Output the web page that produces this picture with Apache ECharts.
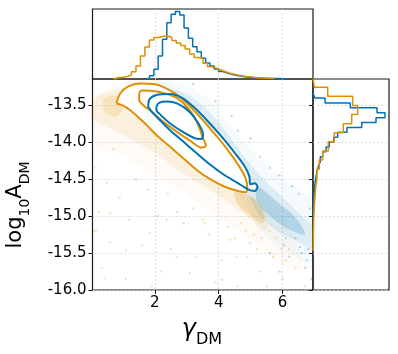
<!DOCTYPE html>
<html>
<head>
<meta charset="utf-8">
<script src="https://cdn.jsdelivr.net/npm/echarts@6/dist/echarts.min.js"></script>
<style>
  html, body { margin: 0; padding: 0; background: #fff; }
  #chart { width: 398px; height: 354px; }
</style>
</head>
<body>
<div id="chart"></div>
<script>
const BLUE = '#0173B2';
const ORANGE = '#DE8F05';
const FONT = 'DejaVu Sans';

// tick positions
const xTicks = [2, 4, 6];
const yTicks = [-16, -15.5, -15, -14.5, -14, -13.5];

// marginal histogram of gamma (top), bin start / width / heights
const gammaBlueStart = 1.70;
const gammaBlueWidth = 0.135;
const gammaBlue = [0.7, 3.3, 9.7, 23, 39.7, 56.3, 64.7, 67.5, 64, 51, 40.7, 32.3, 27.3, 20.7, 16, 13, 10, 7.5, 6, 4.8, 3.8, 3, 2.3, 1.8, 1.4, 1.1, 0.9, 0.8, 0.6, 0.5, 0.4, 0.3, 0.2];
const gammaOrangeStart = 0.71;
const gammaOrangeWidth = 0.14;
const gammaOrange = [1.3, 1.8, 2.5, 4, 7.3, 13, 23, 32, 39, 41.5, 42.5, 43.3, 41.5, 38.5, 36, 33.5, 30, 25, 21.5, 20.7, 15.7, 12.3, 10.7, 9, 7.3, 5.7, 4.7, 3.7, 3, 2.3, 2, 1.3, 1, 0.7, 0.7, 0.4];

// marginal histogram of log10 A (right), bin top edge / width / lengths
const ampBlueTop = -13.342;
const ampBlueWidth = 0.066;
const ampBlue = [2, 12, 37.3, 64, 72, 63, 48.7, 34, 24.7, 20.7, 16.3, 13, 9.7, 7.3, 5.3, 4, 3, 2.3, 1.7, 1.3, 1, 0.8, 0.6, 0.4, 0.3, 0.2];
const ampOrangeTop = -13.138;
const ampOrangeWidth = 0.123;
const ampOrange = [1.3, 14.7, 39.7, 44.7, 38.7, 30.3, 21.3, 15.3, 9.7, 6.3, 4, 2.7, 2, 1.3, 0.9, 0.6, 0.4, 0.3, 0.2];

// contours [gamma, log10A]
const orangeOuter = [[0.80,-13.477],[0.92,-13.342],[1.16,-13.253],[1.53,-13.212],[2.0,-13.22],[2.31,-13.266],[2.63,-13.345],[2.99,-13.47],[3.41,-13.66],[3.83,-13.87],[4.25,-14.09],[4.61,-14.31],[4.82,-14.47],[4.89,-14.604],[4.85,-14.68],[4.61,-14.662],[4.14,-14.595],[3.72,-14.5],[3.31,-14.378],[2.89,-14.22],[2.47,-14.063],[2.05,-13.905],[1.63,-13.725],[1.22,-13.568],[0.96,-13.5],[0.80,-13.477]];
const orangeInner = [[1.51,-13.342],[1.58,-13.307],[1.95,-13.311],[2.37,-13.351],[2.73,-13.419],[3.04,-13.545],[3.31,-13.725],[3.51,-13.95],[3.6,-14.05],[3.46,-14.077],[3.1,-13.982],[2.68,-13.86],[2.26,-13.725],[1.9,-13.59],[1.63,-13.5],[1.51,-13.432],[1.51,-13.342]];
const blueOuter = [[1.79,-13.523],[1.84,-13.419],[2.05,-13.365],[2.47,-13.351],[2.84,-13.401],[3.2,-13.523],[3.62,-13.703],[4.09,-13.928],[4.51,-14.153],[4.82,-14.334],[4.96,-14.469],[4.98,-14.572],[5.13,-14.558],[5.21,-14.604],[5.13,-14.662],[4.92,-14.64],[4.56,-14.545],[4.14,-14.437],[3.72,-14.302],[3.31,-14.153],[2.89,-13.995],[2.47,-13.838],[2.1,-13.68],[1.9,-13.59],[1.79,-13.523]];
const blueInner = [[2.05,-13.523],[2.13,-13.473],[2.37,-13.455],[2.73,-13.486],[3.1,-13.599],[3.36,-13.748],[3.51,-13.896],[3.46,-13.959],[3.25,-13.95],[2.89,-13.869],[2.47,-13.748],[2.18,-13.635],[2.05,-13.568],[2.05,-13.523]];

// sample clouds: outlines of faint / dense regions, plus sparse samples
const orangeHaze = [[0.05,-13.4],[0.5,-13.3],[0.9,-13.2],[1.5,-13.17],[2.3,-13.18],[3.0,-13.4],[3.8,-13.75],[4.5,-14.15],[5.2,-14.55],[5.9,-14.95],[6.4,-15.3],[6.6,-15.7],[6.1,-15.7],[5.4,-15.45],[4.6,-15.2],[3.6,-14.9],[2.6,-14.6],[1.6,-14.35],[0.8,-14.15],[0.05,-14.05]];
const orangeBand = [[0.1,-13.42],[0.5,-13.33],[0.85,-13.3],[0.95,-13.5],[1.6,-13.72],[2.4,-14.05],[3.3,-14.38],[4.1,-14.6],[4.7,-14.68],[5.2,-14.78],[5.5,-15.0],[5.5,-15.2],[5.0,-15.05],[4.4,-14.85],[3.6,-14.62],[2.8,-14.4],[2.0,-14.15],[1.2,-13.95],[0.5,-13.8],[0.1,-13.7]];
const orangeCore = [[4.5,-14.68],[5.0,-14.74],[5.35,-14.9],[5.4,-15.1],[5.0,-15.0],[4.6,-14.85]];
const orangeCoreLeft = [[0.4,-13.42],[0.8,-13.38],[1.0,-13.55],[0.8,-13.66],[0.45,-13.6]];
const blueHaze = [[2.0,-13.22],[2.8,-13.2],[3.6,-13.4],[4.4,-13.8],[5.2,-14.2],[6.0,-14.5],[6.95,-14.8],[6.95,-15.7],[6.4,-15.55],[5.8,-15.4],[5.2,-15.15],[4.8,-14.8],[4.2,-14.5]];
const blueBand = [[2.2,-13.33],[2.9,-13.33],[3.6,-13.55],[4.2,-13.85],[4.8,-14.2],[5.4,-14.5],[6.0,-14.75],[6.6,-15.0],[6.95,-15.15],[6.95,-15.45],[6.4,-15.33],[5.8,-15.2],[5.2,-14.95],[4.9,-14.7]];
const blueCore = [[5.2,-14.6],[5.8,-14.8],[6.4,-15.02],[6.7,-15.25],[6.2,-15.18],[5.6,-15.0],[5.2,-14.8]];
const orangeSparse = [[0.15,-14.35],[0.5,-14.55],[0.25,-14.95],[0.9,-14.75],[1.2,-15.05],[0.6,-15.35],[1.6,-15.4],[0.35,-15.7],[1.1,-15.85],[2.1,-15.0],[2.5,-15.45],[2.9,-15.1],[3.3,-15.55],[2.2,-15.75],[3.7,-15.25],[4.1,-15.6],[4.5,-15.3],[4.9,-15.55],[5.3,-15.75],[5.7,-15.55],[6.0,-15.85],[6.4,-15.7],[6.7,-15.95],[3.9,-15.9],[1.8,-14.65],[2.7,-14.95],[0.1,-15.2],[1.4,-14.5],[3.2,-14.9],[4.6,-15.95],[5.2,-15.45],[6.2,-15.45],[0.7,-14.1],[1.9,-15.95],[2.4,-14.7],[3.5,-15.05],[4.3,-15.15],[5.5,-15.95],[0.17,-15.19],[0.43,-15.84],[0.59,-14.96],[1.11,-15.46],[1.84,-15.23],[2.37,-15.05],[2.68,-15.55],[3.1,-15.77],[3.57,-15.1],[4.09,-15.86],[4.35,-15.32],[4.56,-15.55],[4.98,-15.37],[5.8,-15.3],[6.1,-15.6],[5.1,-15.25],[4.7,-15.1],[5.6,-15.2],[5.35,-15.3],[4.85,-15.2],[5.95,-15.45]];
const blueSparse = [[3.2,-13.22],[3.9,-13.45],[4.6,-13.85],[5.3,-14.2],[5.9,-14.45],[6.5,-14.7],[6.85,-14.9],[6.2,-15.55],[6.7,-15.7],[5.6,-15.5],[6.9,-15.85],[5.9,-15.75],[4.4,-13.65],[5.6,-14.35],[6.3,-14.6],[5.0,-13.95],[6.6,-15.5],[6.05,-15.4],[6.8,-15.45],[6.4,-15.3],[6.75,-15.6],[6.1,-15.3],[6.55,-15.42]];

function stepTop(start, width, h) {
  const pts = [[start, 0]];
  h.forEach((v, i) => { pts.push([start + i * width, v], [start + (i + 1) * width, v]); });
  pts.push([start + h.length * width, 0]);
  return pts;
}
function stepRight(top, width, h) {
  const pts = [[0, top]];
  h.forEach((v, i) => { pts.push([v, top - i * width], [v, top - (i + 1) * width]); });
  pts.push([0, top - h.length * width]);
  return pts;
}

function area(poly, color, opacity, z) {
  return {
    type: 'custom', xAxisIndex: 0, yAxisIndex: 0, data: poly, encode: { x: 0, y: 1 },
    clip: true, silent: true, z: z,
    renderItem: function (params, api) {
      if (params.dataIndex !== 0) return null;
      return {
        type: 'polygon',
        shape: { points: poly.map(p => api.coord(p)), smooth: 0.3 },
        style: { fill: color, opacity: opacity }
      };
    }
  };
}
function contour(poly, color) {
  return {
    type: 'line', xAxisIndex: 0, yAxisIndex: 0, data: poly, smooth: 0.3,
    showSymbol: false, silent: true, z: 5,
    lineStyle: { color: color, width: 2 }
  };
}
function hist(pts, color, xi, yi) {
  return {
    type: 'line', xAxisIndex: xi, yAxisIndex: yi, data: pts, showSymbol: false,
    silent: true, lineStyle: { color: color, width: 1.5 }
  };
}

const split = { show: true, lineStyle: { color: '#d4d4d4', type: [2, 2], width: 0.8 } };
const border = { show: true, borderColor: '#1a1a1a', borderWidth: 1.2, backgroundColor: 'transparent' };

const chart = echarts.init(document.getElementById('chart'));
chart.setOption({
  animation: false,
  grid: [
    Object.assign({ left: 92.5, top: 79, width: 220.5, height: 211 }, border),
    Object.assign({ left: 92.5, top: 9, width: 220.5, height: 70 }, border),
    Object.assign({ left: 313, top: 79, width: 76, height: 211 }, border)
  ],
  xAxis: [
    { gridIndex: 0, type: 'value', min: 0.05, max: 6.95,
      axisLine: { show: false },
      axisTick: { show: true, length: 4, customValues: xTicks, lineStyle: { color: '#1a1a1a' } },
      axisLabel: { customValues: xTicks, fontSize: 15, color: '#000', fontFamily: FONT, margin: 6 },
      splitLine: split },
    { gridIndex: 1, type: 'value', min: 0.05, max: 6.95,
      axisLine: { show: false }, axisTick: { show: false, customValues: xTicks },
      axisLabel: { show: false, customValues: xTicks }, splitLine: split },
    { gridIndex: 2, type: 'value', min: 0, max: 76, show: false }
  ],
  yAxis: [
    { gridIndex: 0, type: 'value', min: -16, max: -13.15, interval: 0.5,
      axisLine: { show: false },
      axisTick: { show: true, length: 4, customValues: yTicks, lineStyle: { color: '#1a1a1a' } },
      axisLabel: { customValues: yTicks, fontSize: 15, color: '#000', fontFamily: FONT, margin: 6,
        formatter: v => v.toFixed(1) },
      splitLine: split },
    { gridIndex: 1, type: 'value', min: 0, max: 70, show: false },
    { gridIndex: 2, type: 'value', min: -16, max: -13.15, interval: 0.5,
      axisLine: { show: false },
      axisTick: { show: true, length: 4, customValues: yTicks, lineStyle: { color: '#1a1a1a' } },
      axisLabel: { show: false, customValues: yTicks },
      splitLine: split }
  ],
  graphic: [
    { type: 'text', x: 19, y: 205, rotation: Math.PI / 2,
      style: { text: '{m|log}{s|10}{m|A}{s|DM}', align: 'center', verticalAlign: 'middle',
        rich: {
          m: { fontSize: 21, fontFamily: FONT, fill: '#000', padding: [0, 0, 6, 0] },
          s: { fontSize: 14, fontFamily: FONT, fill: '#000', verticalAlign: 'bottom' }
        } } },
    { type: 'text', x: 202, y: 333,
      style: { text: '{g|γ}{s|DM}', align: 'center', verticalAlign: 'middle',
        rich: {
          g: { fontSize: 24, fontFamily: FONT, fontStyle: 'italic', fill: '#000', padding: [0, 0, 6, 0] },
          s: { fontSize: 16, fontFamily: FONT, fill: '#000', verticalAlign: 'bottom' }
        } } }
  ],
  series: [
    area(orangeHaze, ORANGE, 0.035, 1),
    area(orangeBand, ORANGE, 0.1, 1),
    area(orangeCore, ORANGE, 0.22, 1),
    area(orangeCoreLeft, ORANGE, 0.15, 1),
    area(blueHaze, BLUE, 0.04, 1),
    area(blueBand, BLUE, 0.1, 1),
    area(blueCore, BLUE, 0.2, 1),
    { type: 'scatter', xAxisIndex: 0, yAxisIndex: 0, data: orangeSparse, symbolSize: 2.5, silent: true, z: 2,
      itemStyle: { color: ORANGE, opacity: 0.25 } },
    { type: 'scatter', xAxisIndex: 0, yAxisIndex: 0, data: blueSparse, symbolSize: 2.5, silent: true, z: 2,
      itemStyle: { color: BLUE, opacity: 0.25 } },
    area(orangeOuter, '#fff', 1, 3),
    area(blueOuter, '#fff', 1, 3),
    contour(orangeOuter, ORANGE),
    contour(orangeInner, ORANGE),
    contour(blueOuter, BLUE),
    contour(blueInner, BLUE),
    hist(stepTop(gammaBlueStart, gammaBlueWidth, gammaBlue), BLUE, 1, 1),
    hist(stepTop(gammaOrangeStart, gammaOrangeWidth, gammaOrange), ORANGE, 1, 1),
    hist(stepRight(ampBlueTop, ampBlueWidth, ampBlue), BLUE, 2, 2),
    hist(stepRight(ampOrangeTop, ampOrangeWidth, ampOrange), ORANGE, 2, 2)
  ]
});
</script>
</body>
</html>
